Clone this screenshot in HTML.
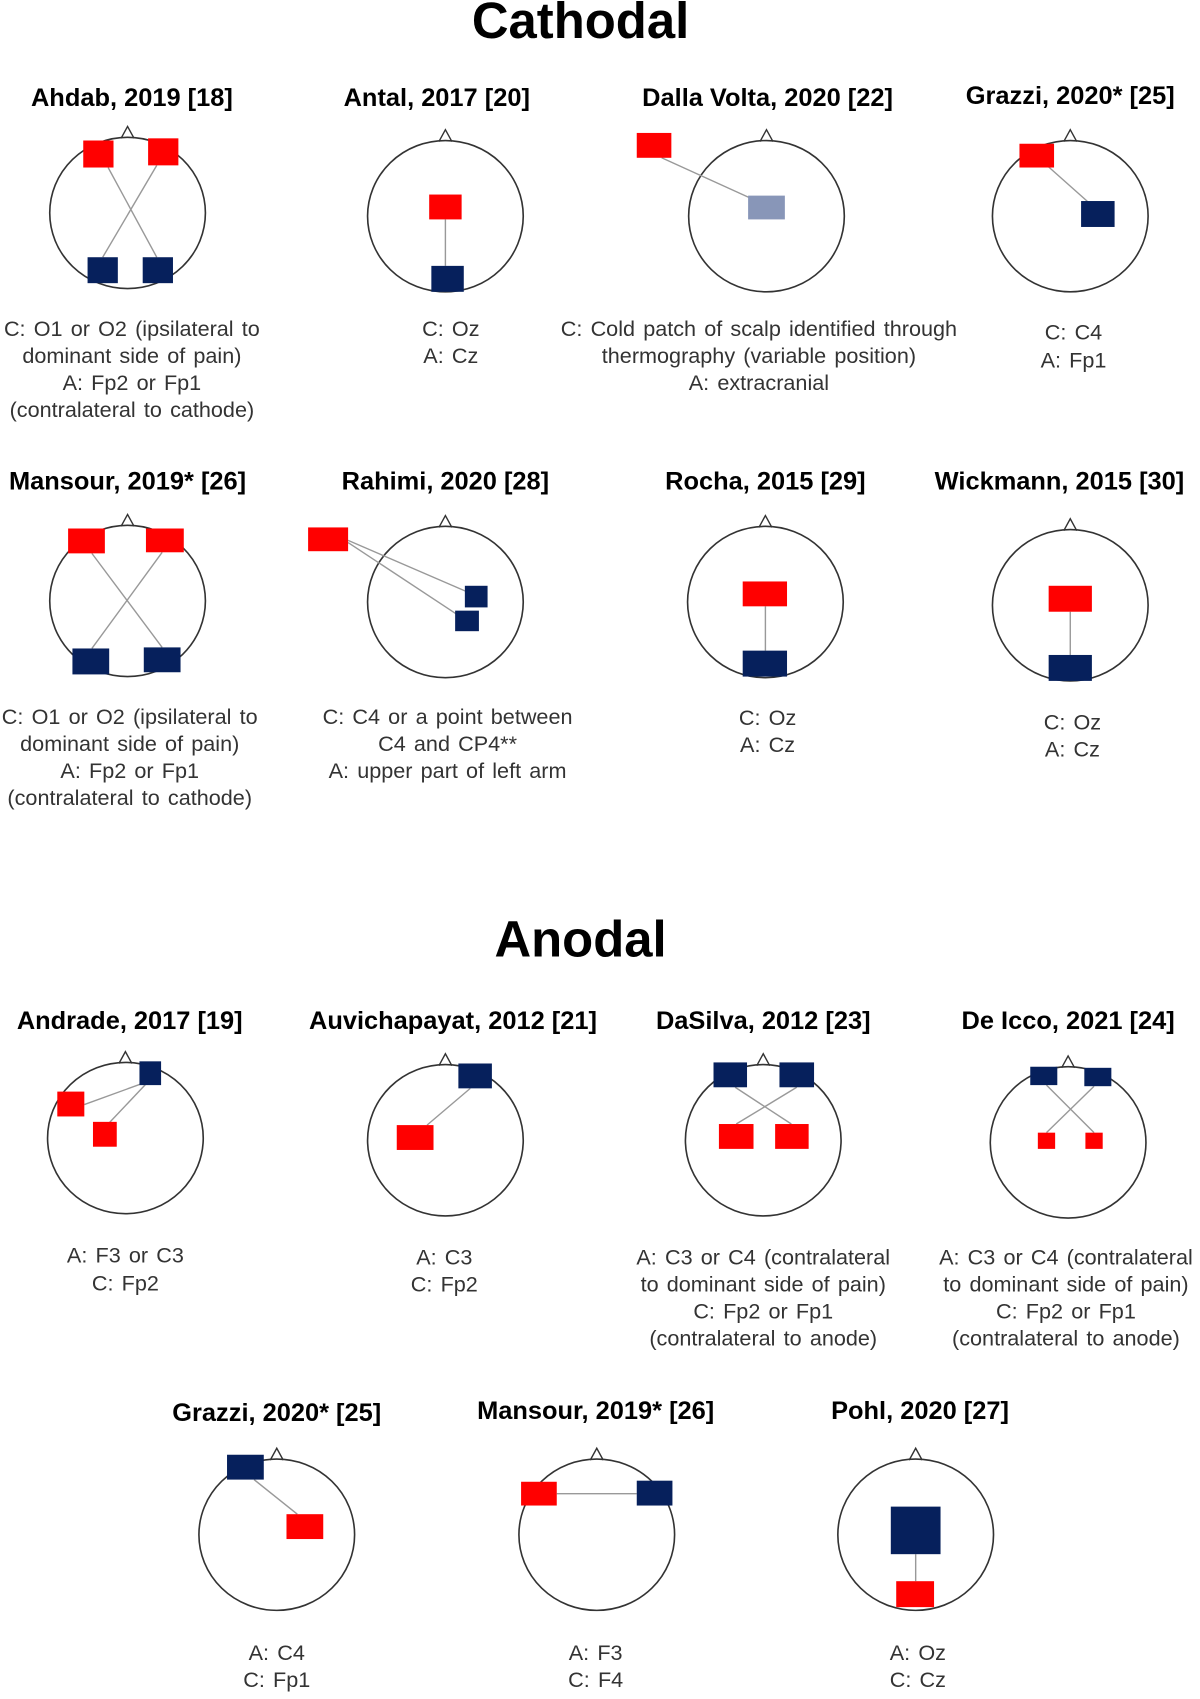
<!DOCTYPE html>
<html><head><meta charset="utf-8"><style>
html,body{margin:0;padding:0;background:#fff;}
svg{display:block;}
.t{font-family:"Liberation Sans",sans-serif;font-weight:bold;font-size:23.5px;fill:#000;text-anchor:middle;}
.h{font-family:"Liberation Sans",sans-serif;font-weight:bold;font-size:47px;fill:#000;text-anchor:middle;}
.d{font-family:"Liberation Sans",sans-serif;font-size:20px;word-spacing:2px;fill:#333;text-anchor:middle;}
.c{fill:none;stroke:#333;stroke-width:1.5;}
.l{stroke:#999;stroke-width:1.3;}
.r{fill:#ff0000;}
.b{fill:#06205c;}
</style></head><body>
<svg width="1200" height="1699" viewBox="0 0 1110 1572" preserveAspectRatio="none" xmlns="http://www.w3.org/2000/svg">
<defs>
<g id="head"><path d="M-6,-69 L0,-80 L6,-69" fill="#fff" stroke="#333" stroke-width="1.3"/><ellipse cx="0" cy="0" rx="72" ry="70" class="c"/></g>
</defs>
<text class="h" x="537" y="35">Cathodal</text>
<text class="h" x="537" y="885">Anodal</text>

<text class="t" x="122" y="98">Ahdab, 2019 [18]</text>
<use href="#head" x="118" y="197"/>
<line class="l" x1="100" y1="155" x2="145" y2="238"/><line class="l" x1="145" y1="153" x2="95" y2="238"/>
<rect class="r" x="77" y="130" width="28" height="25"/><rect class="r" x="137" y="128" width="28" height="25"/>
<rect class="b" x="81" y="238" width="28" height="24"/><rect class="b" x="132" y="238" width="28" height="24"/>
<text class="d" x="122" y="311">C: O1 or O2 (ipsilateral to</text><text class="d" x="122" y="336">dominant side of pain)</text><text class="d" x="122" y="361">A: Fp2 or Fp1</text><text class="d" x="122" y="386">(contralateral to cathode)</text>

<text class="t" x="404" y="98">Antal, 2017 [20]</text>
<use href="#head" x="412" y="200"/>
<line class="l" x1="412" y1="203" x2="412" y2="246"/>
<rect class="r" x="397" y="180" width="30" height="23"/><rect class="b" x="399" y="246" width="30" height="24"/>
<text class="d" x="417" y="311">C: Oz</text><text class="d" x="417" y="336">A: Cz</text>

<text class="t" x="710" y="98">Dalla Volta, 2020 [22]</text>
<use href="#head" x="709" y="200"/>
<line class="l" x1="612" y1="146" x2="700" y2="186"/>
<rect class="r" x="589" y="123" width="32" height="23"/><rect x="692" y="181" width="34" height="22" fill="#8896b8"/>
<text class="d" x="702" y="311">C: Cold patch of scalp identified through</text><text class="d" x="702" y="336">thermography (variable position)</text><text class="d" x="702" y="361">A: extracranial</text>

<text class="t" x="990" y="96">Grazzi, 2020* [25]</text>
<use href="#head" x="990" y="200"/>
<line class="l" x1="965" y1="150" x2="1010" y2="190"/>
<rect class="r" x="943" y="133" width="32" height="22"/><rect class="b" x="1000" y="186" width="31" height="24"/>
<text class="d" x="993" y="314">C: C4</text><text class="d" x="993" y="340">A: Fp1</text>

<text class="t" x="118" y="453">Mansour, 2019* [26]</text>
<use href="#head" x="118" y="556"/>
<line class="l" x1="85" y1="512" x2="150" y2="599"/><line class="l" x1="150" y1="511" x2="85" y2="600"/>
<rect class="r" x="63" y="489" width="34" height="23"/><rect class="r" x="135" y="489" width="35" height="22"/>
<rect class="b" x="67" y="600" width="34" height="24"/><rect class="b" x="133" y="599" width="34" height="23"/>
<text class="d" x="120" y="670">C: O1 or O2 (ipsilateral to</text><text class="d" x="120" y="695">dominant side of pain)</text><text class="d" x="120" y="720">A: Fp2 or Fp1</text><text class="d" x="120" y="745">(contralateral to cathode)</text>

<text class="t" x="412" y="453">Rahimi, 2020 [28]</text>
<use href="#head" x="412" y="557"/>
<line class="l" x1="322" y1="500" x2="433" y2="548"/><line class="l" x1="322" y1="502" x2="425" y2="570"/>
<rect class="r" x="285" y="488" width="37" height="22"/>
<rect class="b" x="430" y="542" width="21" height="20"/><rect class="b" x="421" y="565" width="22" height="19"/>
<text class="d" x="414" y="670">C: C4 or a point between</text><text class="d" x="414" y="695">C4 and CP4**</text><text class="d" x="414" y="720">A: upper part of left arm</text>

<text class="t" x="708" y="453">Rocha, 2015 [29]</text>
<use href="#head" x="708" y="557"/>
<line class="l" x1="708" y1="561" x2="708" y2="602"/>
<rect class="r" x="687" y="538" width="41" height="23"/><rect class="b" x="687" y="602" width="41" height="24"/>
<text class="d" x="710" y="671">C: Oz</text><text class="d" x="710" y="696">A: Cz</text>

<text class="t" x="980" y="453">Wickmann, 2015 [30]</text>
<use href="#head" x="990" y="560"/>
<line class="l" x1="990" y1="566" x2="990" y2="606"/>
<rect class="r" x="970" y="542" width="40" height="24"/><rect class="b" x="970" y="606" width="40" height="24"/>
<text class="d" x="992" y="675">C: Oz</text><text class="d" x="992" y="700">A: Cz</text>

<text class="t" x="120" y="952">Andrade, 2017 [19]</text>
<use href="#head" x="116" y="1053"/>
<line class="l" x1="133" y1="1002" x2="78" y2="1022"/><line class="l" x1="135" y1="1003" x2="100" y2="1040"/>
<rect class="b" x="129" y="982" width="20" height="22"/>
<rect class="r" x="53" y="1010" width="25" height="23"/><rect class="r" x="86" y="1038" width="22" height="23"/>
<text class="d" x="116" y="1168">A: F3 or C3</text><text class="d" x="116" y="1194">C: Fp2</text>

<text class="t" x="419" y="952">Auvichapayat, 2012 [21]</text>
<use href="#head" x="412" y="1055"/>
<line class="l" x1="435" y1="1007" x2="395" y2="1041"/>
<rect class="b" x="424" y="984" width="31" height="23"/><rect class="r" x="367" y="1041" width="34" height="23"/>
<text class="d" x="411" y="1170">A: C3</text><text class="d" x="411" y="1195">C: Fp2</text>

<text class="t" x="706" y="952">DaSilva, 2012 [23]</text>
<use href="#head" x="706" y="1055"/>
<line class="l" x1="680" y1="1006" x2="732" y2="1040"/><line class="l" x1="737" y1="1006" x2="681" y2="1040"/>
<rect class="b" x="660" y="983" width="31" height="23"/><rect class="b" x="721" y="983" width="32" height="23"/>
<rect class="r" x="665" y="1040" width="32" height="23"/><rect class="r" x="717" y="1040" width="31" height="23"/>
<text class="d" x="706" y="1170">A: C3 or C4 (contralateral</text><text class="d" x="706" y="1195">to dominant side of pain)</text><text class="d" x="706" y="1220">C: Fp2 or Fp1</text><text class="d" x="706" y="1245">(contralateral to anode)</text>

<text class="t" x="988" y="952">De Icco, 2021 [24]</text>
<use href="#head" x="988" y="1057"/>
<line class="l" x1="968" y1="1004" x2="1012" y2="1048"/><line class="l" x1="1012" y1="1005" x2="968" y2="1048"/>
<rect class="b" x="953" y="987" width="25" height="17"/><rect class="b" x="1003" y="988" width="25" height="17"/>
<rect class="r" x="960" y="1048" width="16" height="15"/><rect class="r" x="1004" y="1048" width="16" height="15"/>
<text class="d" x="986" y="1170">A: C3 or C4 (contralateral</text><text class="d" x="986" y="1195">to dominant side of pain)</text><text class="d" x="986" y="1220">C: Fp2 or Fp1</text><text class="d" x="986" y="1245">(contralateral to anode)</text>

<text class="t" x="256" y="1315">Grazzi, 2020* [25]</text>
<use href="#head" x="256" y="1420"/>
<line class="l" x1="235" y1="1369" x2="275" y2="1401"/>
<rect class="b" x="210" y="1346" width="34" height="23"/><rect class="r" x="265" y="1401" width="34" height="23"/>
<text class="d" x="256" y="1536">A: C4</text><text class="d" x="256" y="1561">C: Fp1</text>

<text class="t" x="551" y="1313">Mansour, 2019* [26]</text>
<use href="#head" x="552" y="1420"/>
<line class="l" x1="515" y1="1382" x2="589" y2="1382"/>
<rect class="r" x="482" y="1371" width="33" height="22"/><rect class="b" x="589" y="1370" width="33" height="23"/>
<text class="d" x="551" y="1536">A: F3</text><text class="d" x="551" y="1561">C: F4</text>

<text class="t" x="851" y="1313">Pohl, 2020 [27]</text>
<use href="#head" x="847" y="1420"/>
<line class="l" x1="847" y1="1438" x2="847" y2="1463"/>
<rect class="b" x="824" y="1394" width="46" height="44"/><rect class="r" x="829" y="1463" width="35" height="24"/>
<text class="d" x="849" y="1536">A: Oz</text><text class="d" x="849" y="1561">C: Cz</text>
</svg>
</body></html>
